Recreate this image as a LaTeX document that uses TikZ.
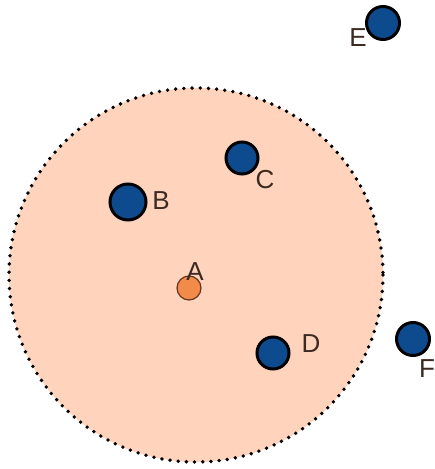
\documentclass[tikz,border=0pt]{standalone}
\usepackage{fontspec}
\setmainfont{Liberation Sans}
\definecolor{peach}{HTML}{FFD3BC}
\definecolor{nodeblue}{HTML}{0D4B8E}
\definecolor{orangedot}{HTML}{F28A4A}
\definecolor{labelc}{HTML}{3B2A22}
\begin{document}
\begin{tikzpicture}[x=1pt,y=-1pt,
  bluedot/.style={circle, draw=black, line width=3pt, fill=nodeblue, inner sep=0pt, minimum size=#1},
  lbl/.style={inner sep=0pt, text=labelc, font=\fontsize{26}{28}\selectfont}]
\fill[white] (0,0) rectangle (435,469);
\useasboundingbox (0,0) rectangle (435,469);
\node[circle, fill=peach, inner sep=0pt, minimum size=374pt] (zone) at (196,275) {};
\draw[line width=3.8pt, line cap=round, dash pattern=on 0pt off 8.2pt] (zone.center) circle[radius=187];
\node[circle, draw=black!60!orangedot, line width=1.2pt, fill=orangedot, inner sep=0pt, minimum size=24pt] (a) at (189,288) {};
\node[bluedot=36pt] (b) at (128,202) {};
\node[bluedot=32pt] (c) at (242,158) {};
\node[bluedot=32pt] (d) at (273,353) {};
\node[bluedot=33pt] (e) at (383,23) {};
\node[bluedot=33pt] (f) at (413,339) {};
\node[lbl] (la) at (195,272) {A};
\node[lbl] (lb) at (161,201) {B};
\node[lbl] (lc) at (265,180) {C};
\node[lbl] (ld) at (311,344) {D};
\node[lbl] (le) at (358,38) {E};
\node[lbl] (lf) at (427,369) {F};
\end{tikzpicture}
\end{document}
